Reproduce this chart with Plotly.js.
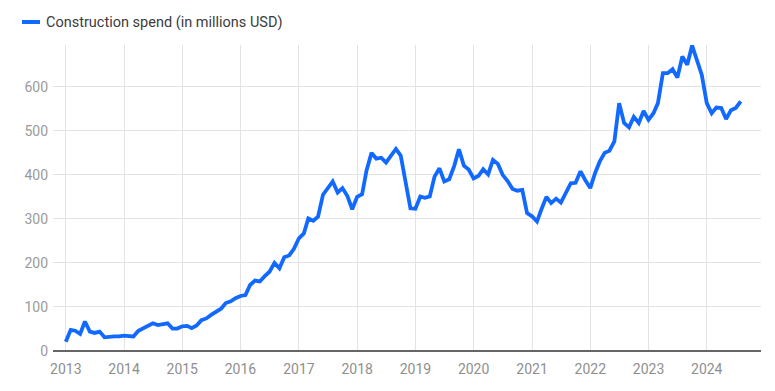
<!DOCTYPE html>
<html>
<head>
<meta charset="utf-8">
<script src="https://cdn.plot.ly/plotly-3.0.1.min.js"></script>
<style>
  html, body { margin: 0; padding: 0; background: #ffffff; }
  #chart { width: 775px; height: 391px; }
</style>
</head>
<body>
<div id="chart"></div>
<script>
// Monthly construction spend, Jan 2013 .. Aug 2024 (millions USD)
const startYear = 2013;
const spend = [
  21, 48, 46, 39, 67, 44, 41, 44, 31, 33, 33, 33,        // 2013
  35, 34, 33, 46, 51, 58, 63, 59, 60, 63, 51, 51,        // 2014
  56, 57, 52, 58, 70, 74, 82, 90, 96, 109, 113, 120,     // 2015
  125, 127, 150, 160, 158, 170, 180, 200, 188, 213, 217, 232, // 2016
  256, 267, 301, 296, 305, 355, 370, 385, 360, 370, 352, 322, // 2017
  350, 356, 410, 450, 437, 439, 428, 443, 459, 444, 380, 324, // 2018
  323, 351, 348, 351, 396, 415, 385, 390, 420, 458, 421, 412, // 2019
  392, 398, 413, 401, 434, 425, 400, 386, 368, 364, 366, 313, // 2020
  306, 294, 322, 350, 336, 346, 337, 359, 381, 382, 408, 388, // 2021
  370, 405, 430, 450, 455, 476, 563, 518, 508, 532, 518, 545, // 2022
  525, 540, 563, 631, 631, 640, 621, 669, 650, 694, 661, 627, // 2023
  563, 540, 553, 552, 527, 547, 552, 567                  // 2024
];
const seriesName = 'Construction spend (in millions USD)';
const yTicks = [0, 100, 200, 300, 400, 500, 600];
const xTickLabels = ['2013','2014','2015','2016','2017','2018','2019','2020','2021','2022','2023','2024'];

const dates = spend.map((v, i) => {
  const y = startYear + Math.floor(i / 12);
  const m = (i % 12) + 1;
  return y + '-' + String(m).padStart(2, '0') + '-01';
});
const xTickVals = xTickLabels.map(y => y + '-01-01');

const blue = '#1169ff';

const trace = {
  x: dates,
  y: spend,
  type: 'scatter',
  mode: 'lines',
  name: seriesName,
  line: { color: blue, width: 3.8 },
  showlegend: false,
  hoverinfo: 'x+y'
};

const font = 'Roboto, "Noto Sans", Arial, sans-serif';

const layout = {
  width: 775,
  height: 391,
  margin: { l: 53, r: 14, t: 45, b: 40, pad: 0 },
  paper_bgcolor: '#ffffff',
  plot_bgcolor: '#ffffff',
  font: { family: font, size: 14, color: '#9a9a9a' },
  xaxis: {
    type: 'date',
    range: ['2012-10-13', '2024-12-06'],
    tickvals: xTickVals,
    ticktext: xTickLabels,
    showgrid: true,
    gridcolor: '#e3e3e3',
    gridwidth: 1,
    zeroline: false,
    showline: false,
    ticks: '',
    ticklabelstandoff: 8,
    tickfont: { family: font, size: 14, color: '#8f8f8f' }
  },
  yaxis: {
    range: [0, 695],
    tickvals: yTicks,
    ticktext: yTicks.map(String),
    showgrid: true,
    gridcolor: '#e3e3e3',
    gridwidth: 1,
    zeroline: true,
    zerolinecolor: '#666666',
    zerolinewidth: 2,
    showline: false,
    ticks: '',
    ticklabelstandoff: 4,
    tickfont: { family: font, size: 14, color: '#9a9a9a' }
  },
  shapes: [
    {
      type: 'line', xref: 'paper', yref: 'paper',
      x0: (22 - 53) / 708, x1: (40 - 53) / 708,
      y0: (351 - 22) / 306, y1: (351 - 22) / 306,
      line: { color: blue, width: 4 }
    }
  ],
  annotations: [
    {
      xref: 'paper', yref: 'paper',
      x: (44 - 53) / 708, y: (351 - 22) / 306,
      xanchor: 'left', yanchor: 'middle',
      text: seriesName,
      showarrow: false,
      font: { family: font, size: 14.5, color: '#3c3c3c' }
    }
  ]
};

Plotly.newPlot('chart', [trace], layout, { displayModeBar: false, staticPlot: true });
</script>
</body>
</html>
